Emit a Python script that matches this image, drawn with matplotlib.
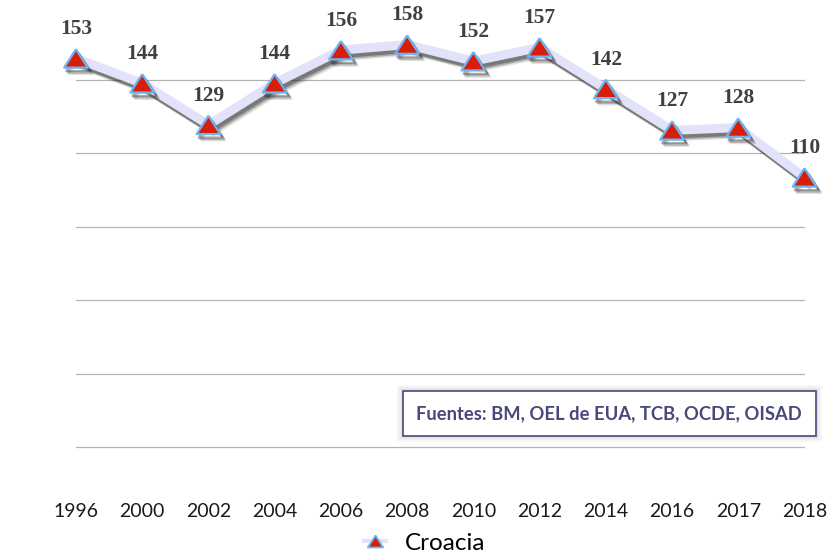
import numpy as np
import matplotlib
matplotlib.use('Agg')
import matplotlib.pyplot as plt
import matplotlib.patheffects as pe
from matplotlib.lines import Line2D
from matplotlib.patches import Rectangle

years = ['1996', '2000', '2002', '2004', '2006', '2008',
         '2010', '2012', '2014', '2016', '2017', '2018']
values = [153, 144, 129, 144, 156, 158, 152, 157, 142, 127, 128, 110]
series_name = 'Croacia'
source_text = 'Fuentes: BM, OEL de EUA, TCB, OCDE, OISAD'

# gridline levels (axis has no labels)
grid_levels = [12.5, 39.1, 65.7, 92.2, 118.8, 145.3]

LINE_C = '#e2e2fa'
FILL_C = '#d81e08'
EDGE_C = '#6cb4f2'
LABEL_C = '#404040'
NAVY = '#48487a'

tri = [(0, 0.78), (-1, -0.78), (1, -0.78), (0, 0.78)]

fig = plt.figure(figsize=(8.31, 5.57), dpi=100)
ax = fig.add_axes([76 / 831, 1 - 448.5 / 557, (804.5 - 76) / 831, (448.5 - 10) / 557])

x = np.arange(len(years))
# soft drop shadow, a few offset layers to fake the blur
shadow = [pe.SimpleLineShadow(offset=(3.5, -4.5), shadow_color='#303030', alpha=0.15, rho=1),
          pe.SimpleLineShadow(offset=(2.5, -3.5), shadow_color='#303030', alpha=0.3, rho=1),
          pe.SimpleLineShadow(offset=(1.5, -2.5), shadow_color='#303030', alpha=0.4, rho=1),
          pe.Normal()]
ax.plot(x, values, color=LINE_C, lw=6.5, solid_joinstyle='miter', zorder=3,
        path_effects=shadow, clip_on=False)
ax.plot(x, values, ls='none', marker=tri, ms=17, mfc=FILL_C, mec=EDGE_C, mew=1.6,
        zorder=4, path_effects=shadow, clip_on=False)

for xi, v in zip(x, values):
    ax.annotate(str(v), (xi, v), xytext=(0, 21), textcoords='offset points',
                ha='center', va='center', fontsize=15.5, fontweight='bold',
                family='Liberation Serif', color=LABEL_C, zorder=5)

ax.set_xlim(0, len(years) - 1)
ax.set_ylim(12.05, 170.5)
ax.set_yticks(grid_levels)
ax.set_yticklabels([])
ax.yaxis.grid(True, color='#b4b4b4', lw=0.9)
ax.set_axisbelow(True)
ax.tick_params(axis='y', length=0)
ax.set_xticks(x)
ax.set_xticklabels(years, family='Lato', fontsize=14, color='#1a1a1a')
ax.tick_params(axis='x', length=0, pad=39)
for s in ax.spines.values():
    s.set_visible(False)

# source box
bx0, bx1, by0, by1 = 402.7, 815.7, 390.7, 436
for i, a in enumerate([0.05, 0.04, 0.03]):
    g = 2 + 2 * i
    fig.patches.append(Rectangle(((bx0 - g) / 831, 1 - (by1 + g) / 557),
                                 (bx1 - bx0 + 2 * g) / 831, (by1 - by0 + 2 * g) / 557,
                                 transform=fig.transFigure, fc='#000000', ec='none',
                                 alpha=a, zorder=5))
fig.patches.append(Rectangle((bx0 / 831, 1 - by1 / 557), (bx1 - bx0) / 831, (by1 - by0) / 557,
                             transform=fig.transFigure, fc='white', ec=NAVY, lw=1.2, zorder=6))
fig.text((bx0 + bx1) / 2 / 831, 1 - (by0 + by1) / 2 / 557, source_text, ha='center', va='center',
         family='Lato', fontweight='bold', fontsize=13.2, color=NAVY, zorder=7)

handle = Line2D([], [], color=LINE_C, lw=3, marker=tri, ms=11, mfc=FILL_C, mec=EDGE_C, mew=1.3)
fig.legend([handle], [series_name], loc='center', bbox_to_anchor=(425 / 831, 1 - 543 / 557),
           frameon=False, prop={'family': 'Lato', 'size': 17.5}, handlelength=0.87,
           handletextpad=0.8, borderpad=0, borderaxespad=0)

fig.savefig('out.png', dpi=100)
